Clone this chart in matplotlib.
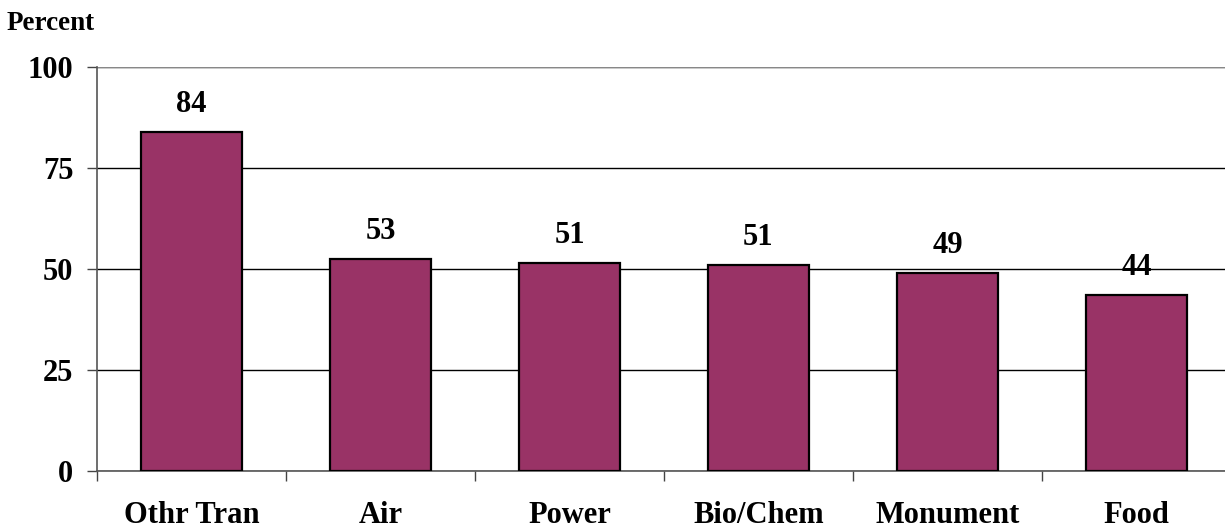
import matplotlib
matplotlib.use("Agg")
import matplotlib.pyplot as plt
import numpy as np

# valeurs
categories = ["Othr Tran", "Air", "Power", "Bio/Chem", "Monument", "Food"]
values = [83.8, 52.4, 51.4, 51.0, 49.0, 43.5]
labels = ["84", "53", "51", "51", "49", "44"]
yticks = [0, 25, 50, 75, 100]

plt.rcParams['font.family'] = ['Liberation Serif', 'DejaVu Serif']
plt.rcParams['font.weight'] = 'bold'

fig = plt.figure(figsize=(12.25, 5.29), dpi=100)
ax = fig.add_axes([97 / 1225, 58.3 / 529, 1134 / 1225, 403.7 / 529])

x = np.arange(len(categories))
bars = ax.bar(x, values, width=0.53, color='#993366', edgecolor='black',
              linewidth=1.6, zorder=3)

for xi, v, lab in zip(x, values, labels):
    ax.annotate(lab, (xi, v), xytext=(0, 14.5), textcoords='offset points',
                ha='center', va='baseline', fontsize=22, fontweight='bold')

ax.set_xlim(-0.5, len(categories) - 0.5)
ax.set_ylim(0, 100)
ax.set_yticks(yticks)
ax.set_yticklabels([str(t) for t in yticks], fontsize=22, fontweight='bold')
ax.set_xticks(x)
ax.set_xticklabels(categories, fontsize=22, fontweight='bold')
ax.set_xticks(np.arange(len(categories) + 1) - 0.5, minor=True)

ax.tick_params(axis='x', which='major', length=0, pad=22)
ax.tick_params(axis='x', which='minor', length=7, width=1, color='#444444', direction='out')
ax.tick_params(axis='y', length=7, width=1, color='#444444', direction='out', pad=10)

ax.yaxis.grid(True, color='black', linewidth=1, zorder=0)
ax.set_axisbelow(True)
for s in ['top', 'right']:
    ax.spines[s].set_visible(False)
for s in ['left', 'bottom']:
    ax.spines[s].set_color('#555555')
    ax.spines[s].set_linewidth(1.2)
# ligne du haut (100) en gris comme sur l'original
ax.axhline(100, color='#888888', linewidth=1.5, zorder=1)

fig.text(7 / 1225, 1 - 30 / 529, "Percent", fontsize=19.5, fontweight='bold',
         ha='left', va='baseline')

fig.savefig("out.png", dpi=100)
